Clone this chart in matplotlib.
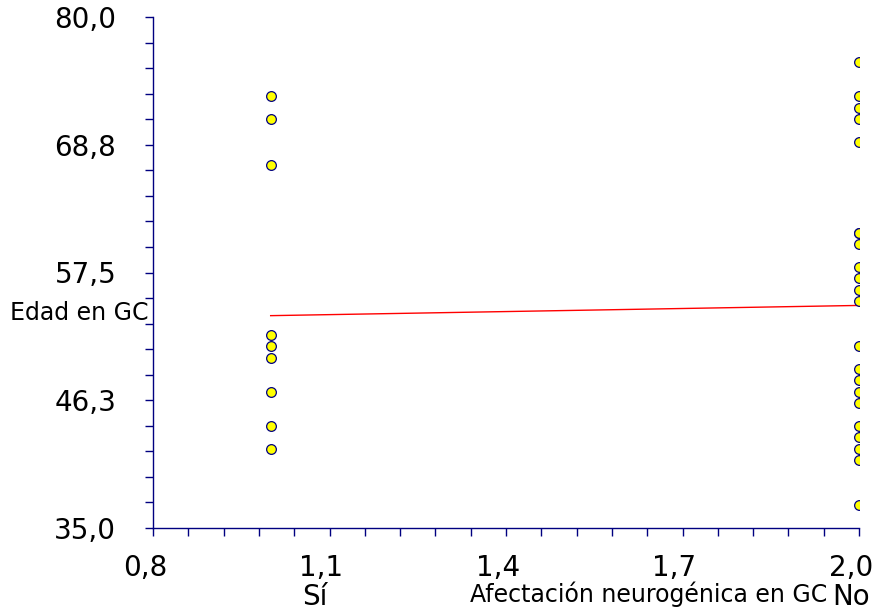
import numpy as np
import matplotlib
matplotlib.use("Agg")
import matplotlib.pyplot as plt
from matplotlib.ticker import FixedLocator, FuncFormatter
from matplotlib.transforms import ScaledTranslation

# Edad en GC por grupo (1 = Sí, 2 = No)
edad_si = [73, 71, 67, 52, 51, 50, 47, 44, 42]
edad_no = [76, 73, 72, 71, 69, 61, 61, 60, 58, 57, 56, 55, 51, 49, 48, 47, 46, 44, 43, 42, 41, 37]
grupo_x = [1.0, 2.0]
recta_y = [53.7, 54.6]   # recta ajustada

x_major = [0.8, 1.1, 1.4, 1.7, 2.0]
y_major = [35.0, 46.25, 57.5, 68.75, 80.0]

navy = "#000080"

fig = plt.figure(figsize=(8.8, 6.12), dpi=100)
ax = fig.add_axes([153/880, 1-528/612, 706/880, 511/612])

ax.plot(grupo_x, recta_y, color="red", lw=1.0, zorder=2)
ax.plot(np.full(len(edad_si), grupo_x[0]), edad_si, "o", ms=7, mfc="yellow", mec=navy, mew=0.9, zorder=3)
ax.plot(np.full(len(edad_no), grupo_x[1]), edad_no, "o", ms=7, mfc="yellow", mec=navy, mew=0.9, zorder=3)

ax.set_xlim(0.8, 2.0)
ax.set_ylim(35, 80)
for s in ["top", "right"]:
    ax.spines[s].set_visible(False)
for s in ["left", "bottom"]:
    ax.spines[s].set_color(navy)
    ax.spines[s].set_linewidth(1.0)

ax.xaxis.set_major_locator(FixedLocator(x_major))
ax.xaxis.set_minor_locator(FixedLocator(np.linspace(0.8, 2.0, 21)))
ax.yaxis.set_major_locator(FixedLocator(y_major))
ax.yaxis.set_minor_locator(FixedLocator(np.linspace(35, 80, 21)))
fmt = FuncFormatter(lambda v, p: ("%.1f" % (v + 1e-9)).replace(".", ","))
ax.xaxis.set_major_formatter(fmt)
ax.yaxis.set_major_formatter(fmt)

ax.tick_params(which="both", direction="out", length=5.5, width=1, color=navy)
ax.tick_params(axis="x", labelsize=20, pad=13)
ax.tick_params(axis="y", labelsize=20, pad=21)

# etiquetas del eje x algo corridas a la izquierda, como en el original
shift = ScaledTranslation(-8/100, 0, fig.dpi_scale_trans)
for lbl in ax.get_xticklabels():
    lbl.set_transform(lbl.get_transform() + shift)

fig.text(10/880, 1-313/612, "Edad en GC", fontsize=17, ha="left", va="center")
fig.text(827/880, 1-602/612, "Afectación neurogénica en GC", fontsize=17, ha="right", va="baseline")
fig.text(315/880, 1-605/612, "Sí", fontsize=20, ha="center", va="baseline")
fig.text(851/880, 1-605/612, "No", fontsize=20, ha="center", va="baseline")

fig.savefig("out.png", dpi=100)
